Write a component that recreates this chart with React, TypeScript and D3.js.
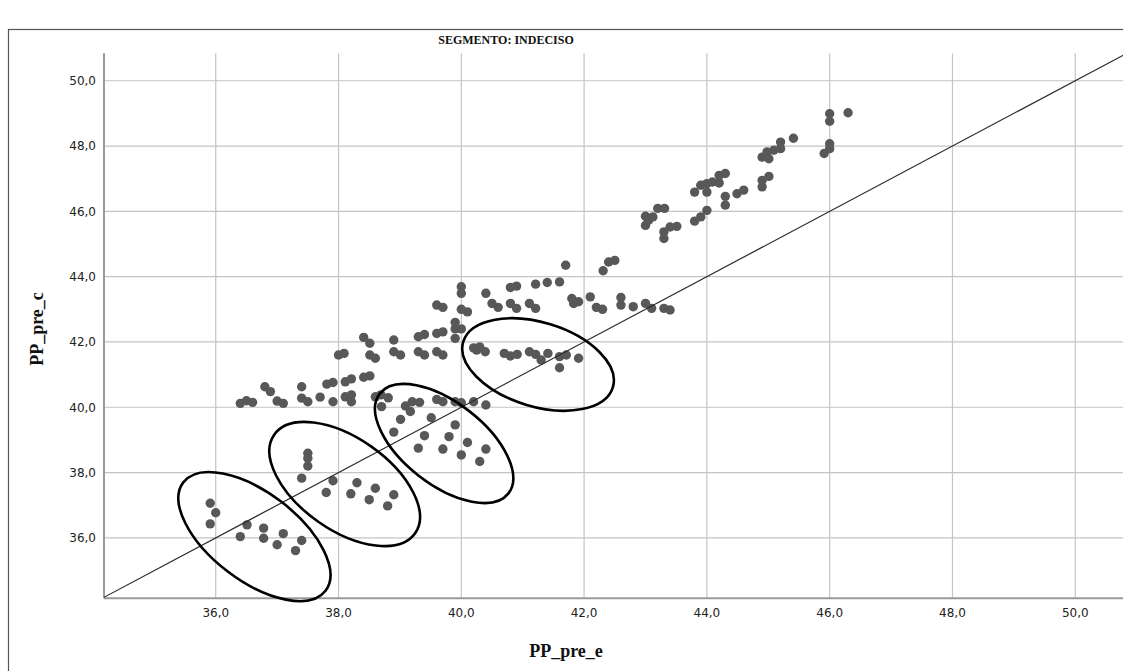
import React from 'react';
import * as d3 from 'd3';

// ---- data ----
const xTicks = [36, 38, 40, 42, 44, 46, 48, 50];
const yTicks = [36, 38, 40, 42, 44, 46, 48, 50];
const chartTitle = 'SEGMENTO: INDECISO';
const xLabel = 'PP_pre_e';
const yLabel = 'PP_pre_c';

// group 1: lower-left cluster
const g1x = [35.91, 36.0, 35.91, 36.51, 36.40, 36.78, 36.78, 37.10, 37.00, 37.40, 37.30];
const g1y = [37.06, 36.77, 36.43, 36.40, 36.04, 36.30, 35.99, 36.13, 35.79, 35.92, 35.61];
// group 2
const g2x = [37.50, 37.50, 37.50, 37.40, 37.91, 37.80, 38.30, 38.20, 38.60, 38.50, 38.90, 38.80];
const g2y = [38.59, 38.44, 38.20, 37.83, 37.75, 37.39, 37.69, 37.35, 37.52, 37.17, 37.32, 36.98];
// group 3
const g3x = [38.90, 39.01, 39.09, 39.20, 39.17, 39.32, 39.51, 39.40, 39.30, 39.90, 39.80, 39.70, 40.10, 40.00, 40.40, 40.30, 39.60, 39.70, 39.90, 40.00, 40.20, 40.40];
const g3y = [39.24, 39.63, 40.04, 40.17, 39.87, 40.15, 39.68, 39.13, 38.75, 39.46, 39.10, 38.72, 38.92, 38.54, 38.72, 38.34, 40.24, 40.17, 40.17, 40.14, 40.17, 40.07];
// lower band around 40-41
const b1x = [36.40, 36.50, 36.60, 36.80, 36.89, 37.00, 37.10, 37.40, 37.40, 37.50, 37.70, 37.81, 37.91, 37.91, 38.11, 38.21, 38.11, 38.21, 38.21, 38.41, 38.51, 38.60, 38.69, 38.70, 38.81];
const b1y = [40.12, 40.20, 40.15, 40.63, 40.48, 40.19, 40.12, 40.63, 40.28, 40.17, 40.31, 40.71, 40.76, 40.17, 40.78, 40.87, 40.32, 40.38, 40.17, 40.92, 40.96, 40.32, 40.38, 40.02, 40.29];
// middle band 41-42.6
const b2x = [38.00, 38.09, 38.51, 38.60, 38.41, 38.51, 38.90, 38.90, 39.01, 39.30, 39.40, 39.30, 39.40, 39.60, 39.70, 39.60, 39.70, 39.90, 39.90, 40.00, 39.90];
const b2y = [41.60, 41.65, 41.60, 41.50, 42.14, 41.96, 42.06, 41.70, 41.60, 42.16, 42.23, 41.70, 41.60, 42.26, 42.31, 41.70, 41.60, 42.60, 42.40, 42.40, 42.11];
// group 4 (around 41.5)
const g4x = [40.20, 40.30, 40.25, 40.39, 40.70, 40.80, 40.91, 41.11, 41.21, 41.30, 41.41, 41.60, 41.71, 41.60, 41.91];
const g4y = [41.82, 41.85, 41.75, 41.70, 41.65, 41.57, 41.62, 41.70, 41.62, 41.45, 41.65, 41.55, 41.60, 41.21, 41.50];
// upper band 43-44.5
const b3x = [39.60, 39.70, 40.00, 40.00, 40.00, 40.10, 40.40, 40.50, 40.60, 40.80, 40.90, 40.80, 40.90, 41.21, 41.40, 41.60, 41.70, 41.11, 41.21, 41.80, 41.83, 41.91, 42.10, 42.20, 42.30, 42.31, 42.40, 42.50, 42.60, 42.60, 42.80, 43.00, 43.10, 43.30, 43.40];
const b3y = [43.13, 43.06, 43.69, 43.49, 43.00, 42.92, 43.49, 43.18, 43.06, 43.67, 43.71, 43.18, 43.03, 43.77, 43.82, 43.84, 44.35, 43.18, 43.03, 43.33, 43.18, 43.23, 43.38, 43.06, 43.00, 44.18, 44.45, 44.50, 43.36, 43.13, 43.08, 43.18, 43.03, 43.03, 42.98];
// top cluster 45-49
const b4x = [43.00, 43.00, 43.05, 43.12, 43.20, 43.31, 43.30, 43.30, 43.40, 43.51, 43.80, 43.90, 44.00, 43.80, 43.90, 44.00, 44.00, 44.09, 44.20, 44.20, 44.30, 44.30, 44.30, 44.49, 44.60, 44.90, 44.90, 45.01, 44.90, 44.98, 45.01, 45.09, 45.20, 45.20, 45.41, 45.91, 46.00, 46.00, 46.00, 46.00, 46.30];
const b4y = [45.85, 45.57, 45.73, 45.83, 46.09, 46.09, 45.17, 45.37, 45.52, 45.54, 45.70, 45.83, 46.03, 46.59, 46.80, 46.85, 46.59, 46.90, 46.87, 47.10, 47.16, 46.46, 46.19, 46.54, 46.65, 46.75, 46.95, 47.07, 47.66, 47.82, 47.61, 47.87, 47.92, 48.12, 48.24, 47.77, 48.07, 47.92, 48.99, 48.76, 49.02];

const ppPreE = [...g1x, ...g2x, ...g3x, ...b1x, ...b2x, ...g4x, ...b3x, ...b4x];
const ppPreC = [...g1y, ...g2y, ...g3y, ...b1y, ...b2y, ...g4y, ...b3y, ...b4y];

// hand-drawn annotation ellipses: centres in data units
const ellipseCx = [36.63, 38.10, 39.72, 41.25];
const ellipseCy = [36.04, 37.65, 38.89, 41.31];

export default function App() {
  const W = 1123;
  const H = 671;
  const left = 104, right = 1130.5, top = 53.3, bottom = 598.3;
  const x = d3.scaleLinear().domain([34.18, 50.9]).range([left, right]);
  const y = d3.scaleLinear().domain([34.15, 50.84]).range([bottom, top]);

  const diagLo = 34.18;
  const diagHi = 50.84;
  const line = d3.line<number>().x(d => x(d)).y(d => y(d));

  const ellipseShape = [
    { rx: 89.4, ry: 44, rot: 37.3 },
    { rx: 86, ry: 46, rot: 35 },
    { rx: 81.4, ry: 41, rot: 37.8 },
    { rx: 78.2, ry: 42, rot: 17 },
  ];

  const tickFont = '"DejaVu Sans", sans-serif';
  const serif = '"Liberation Serif", "Times New Roman", serif';

  return (
    <svg width={W} height={H} style={{ position: 'absolute', left: 0, top: 0, background: '#fff' }}>
      <rect x={0} y={0} width={W} height={H} fill="#fff" />
      {/* outer frame */}
      <rect x={8.5} y={29.5} width={1300} height={800} fill="none" stroke="#555" strokeWidth={1.2} />
      <defs>
        <clipPath id="plotClip">
          <rect x={left} y={top} width={right - left} height={bottom - top} />
        </clipPath>
      </defs>
      <text x={506} y={44} textAnchor="middle" fontFamily={serif} fontWeight="bold" fontSize={12} fill="#111">
        {chartTitle}
      </text>
      {/* grid */}
      {xTicks.map(t => (
        <line key={'gx' + t} x1={x(t)} x2={x(t)} y1={top} y2={bottom} stroke="#c4c4c4" strokeWidth={1.2} />
      ))}
      {yTicks.map(t => (
        <line key={'gy' + t} x1={left} x2={right} y1={y(t)} y2={y(t)} stroke="#c4c4c4" strokeWidth={1.2} />
      ))}
      {/* axes */}
      <line x1={left} x2={left} y1={top} y2={bottom} stroke="#9a9a9a" strokeWidth={2} />
      <line x1={left} x2={right} y1={bottom} y2={bottom} stroke="#9a9a9a" strokeWidth={2} />
      {/* tick labels */}
      {xTicks.map(t => (
        <text key={'tx' + t} x={x(t)} y={617} textAnchor="middle" fontFamily={tickFont} fontSize={12} fill="#222">
          {d3.format('.1f')(t).replace('.', ',')}
        </text>
      ))}
      {yTicks.map(t => (
        <text key={'ty' + t} x={96} y={y(t) + 4.3} textAnchor="end" fontFamily={tickFont} fontSize={12} fill="#222">
          {d3.format('.1f')(t).replace('.', ',')}
        </text>
      ))}
      {/* axis titles */}
      <text x={566} y={657} textAnchor="middle" fontFamily={serif} fontWeight="bold" fontSize={18} fill="#111">
        {xLabel}
      </text>
      <text transform={`translate(43,329) rotate(-90)`} textAnchor="middle" fontFamily={serif} fontWeight="bold" fontSize={18} fill="#111">
        {yLabel}
      </text>
      <g clipPath="url(#plotClip)">
        {ppPreE.map((v, i) => (
          <circle key={'p' + i} cx={x(v)} cy={y(ppPreC[i])} r={4.7} fill="#585858" />
        ))}
        <path d={line([diagLo, diagHi]) || ''} stroke="#2a2a2a" strokeWidth={1.2} fill="none" />
      </g>
      {ellipseCx.map((cx, i) => (
        <ellipse
          key={'e' + i}
          cx={0}
          cy={0}
          rx={ellipseShape[i].rx}
          ry={ellipseShape[i].ry}
          transform={`translate(${x(cx)},${y(ellipseCy[i])}) rotate(${ellipseShape[i].rot})`}
          fill="none"
          stroke="#000"
          strokeWidth={2.6}
        />
      ))}
    </svg>
  );
}
